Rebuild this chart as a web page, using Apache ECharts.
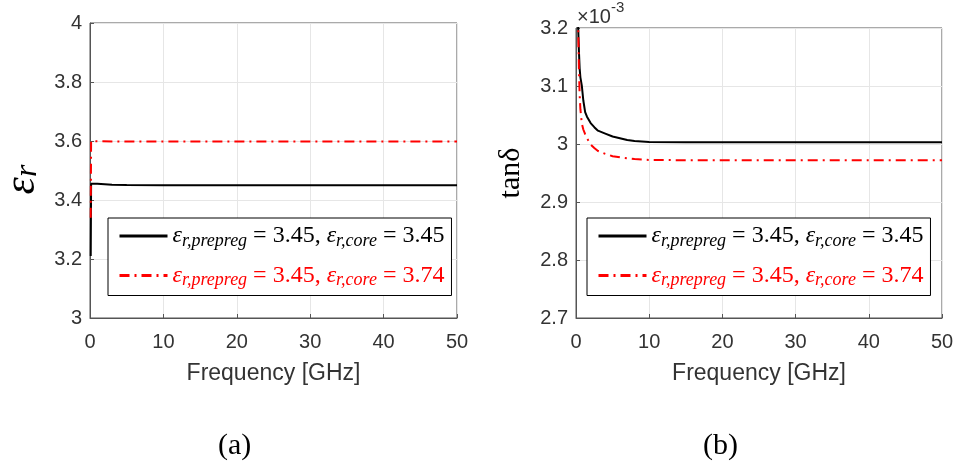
<!DOCTYPE html>
<html lang="en">
<head>
    <meta charset="UTF-8">
    <script src="https://cdn.jsdelivr.net/npm/echarts@6/dist/echarts.min.js"></script>
    <style>
        html, body { margin: 0; padding: 0; background: #fff; }
    </style>
</head>
<body>
<div style="width: 956px;height: 469px" id="chart"></div>

<script>
    // (a) relative permittivity vs frequency
    var freqA = [0.1, 0.15, 1, 3, 5, 10, 20, 30, 40, 50]
    var erCase1 = [3.21, 3.455, 3.455, 3.452, 3.451, 3.45, 3.45, 3.45, 3.45, 3.45]
    var freqA2 = [0.1, 0.15, 1, 5, 10, 20, 30, 40, 50]
    var erCase2 = [3.34, 3.6, 3.599, 3.598, 3.598, 3.598, 3.598, 3.598, 3.598]

    // (b) loss tangent (x10^-3) vs frequency
    var freqB = [0.25, 0.3, 0.4, 0.5, 0.6, 0.8, 1, 1.25, 1.5, 2, 2.5, 3, 4, 5, 6, 7, 8, 10, 15, 20, 30, 40, 50]
    var tanCase1 = [3.26, 3.2, 3.16, 3.13, 3.115, 3.1, 3.075, 3.055, 3.047, 3.036, 3.029, 3.023, 3.018, 3.013, 3.01, 3.007, 3.005, 3.0035, 3.003, 3.003, 3.003, 3.003, 3.003]
    var tanCase2 = [3.26, 3.2, 3.13, 3.085, 3.06, 3.035, 3.025, 3.017, 3.01, 2.999, 2.993, 2.988, 2.983, 2.979, 2.977, 2.9755, 2.974, 2.9725, 2.972, 2.972, 2.972, 2.972, 2.972]

    var erTicks = { min: 3, max: 4, interval: 0.2 }
    var tanTicks = { min: 2.7, max: 3.2, interval: 0.1 }
    var freqTicks = { min: 0, max: 50, interval: 10 }

    var legendText = {
        a1: ['3.45', '3.45'],
        a2: ['3.45', '3.74'],
        b1: ['3.45', '3.45'],
        b2: ['3.45', '3.74']
    }

    function zip(xs, ys) {
        return xs.map(function (x, i) { return [x, ys[i]] })
    }

    var serifFont = 'Liberation Serif'
    var sansFont = 'Liberation Sans'

    var legendRich = {
        e: { fontFamily: serifFont, fontStyle: 'italic', fontSize: 24, lineHeight: 28 },
        s: { fontFamily: serifFont, fontStyle: 'italic', fontSize: 18, lineHeight: 15, verticalAlign: 'bottom' },
        n: { fontFamily: serifFont, fontSize: 24, lineHeight: 28 }
    }

    function legendFmt(name) {
        var v = legendText[name]
        return '{e|ε}{s|r,prepreg}{n| = ' + v[0] + ', }{e|ε}{s|r,core}{n| = ' + v[1] + '}'
    }

    function makeLegend(left, names) {
        return {
            orient: 'vertical',
            left: left,
            top: 218,
            padding: [6, 7, 6, 10],
            itemGap: 13.5,
            itemWidth: 48,
            itemHeight: 14,
            backgroundColor: '#fff',
            borderColor: '#000',
            borderWidth: 1,
            selectedMode: false,
            lineStyle: { width: 3 },
            itemStyle: { opacity: 0 },
            data: [
                { name: names[0], textStyle: { color: '#000' } },
                { name: names[1], textStyle: { color: '#ff0000' } }
            ],
            formatter: legendFmt,
            textStyle: { rich: legendRich }
        }
    }

    function xAxisOpt(gridIndex) {
        return {
            type: 'value',
            gridIndex: gridIndex,
            min: freqTicks.min,
            max: freqTicks.max,
            interval: freqTicks.interval,
            name: 'Frequency [GHz]',
            nameLocation: 'middle',
            nameGap: 44,
            nameTextStyle: { fontFamily: sansFont, fontSize: 23, color: '#333' },
            axisLine: { lineStyle: { color: '#555' } },
            axisTick: { inside: true, length: 4, lineStyle: { color: '#555' } },
            axisLabel: { fontFamily: sansFont, fontSize: 20, color: '#333', margin: 14 },
            splitLine: { show: true, lineStyle: { color: '#e6e6e6' } }
        }
    }

    var chart = echarts.init(document.getElementById('chart'))
    var option = {
        animation: false,
        backgroundColor: '#fff',
        grid: [
            { left: 90, top: 23, width: 367, height: 295, show: true, borderColor: '#555', borderWidth: 1, outerBoundsMode: 'none' },
            { left: 576, top: 28, width: 366, height: 290, show: true, borderColor: '#555', borderWidth: 1, outerBoundsMode: 'none' }
        ],
        xAxis: [xAxisOpt(0), xAxisOpt(1)],
        yAxis: [
            {
                type: 'value',
                gridIndex: 0,
                min: erTicks.min,
                max: erTicks.max,
                interval: erTicks.interval,
                name: '{e|ε}{s|r}',
                nameLocation: 'middle',
                nameGap: 46,
                nameTextStyle: {
                    padding: [0, 18, 0, 0],
                    rich: {
                        e: { fontFamily: serifFont, fontStyle: 'italic', fontSize: 44, color: '#000' },
                        s: { fontFamily: serifFont, fontStyle: 'italic', fontSize: 32, color: '#000', verticalAlign: 'bottom' }
                    }
                },
                axisLine: { show: true, lineStyle: { color: '#555' } },
                axisTick: { show: true, inside: true, length: 4, lineStyle: { color: '#555' } },
                axisLabel: { fontFamily: sansFont, fontSize: 20, color: '#333', margin: 8 },
                splitLine: { show: true, lineStyle: { color: '#e6e6e6' } }
            },
            {
                type: 'value',
                gridIndex: 1,
                min: tanTicks.min,
                max: tanTicks.max,
                interval: tanTicks.interval,
                name: 'tanδ',
                nameLocation: 'middle',
                nameGap: 50,
                nameTextStyle: { fontFamily: serifFont, fontSize: 30, color: '#000' },
                axisLine: { show: true, lineStyle: { color: '#555' } },
                axisTick: { show: true, inside: true, length: 4, lineStyle: { color: '#555' } },
                axisLabel: { fontFamily: sansFont, fontSize: 20, color: '#333', margin: 8 },
                splitLine: { show: true, lineStyle: { color: '#e6e6e6' } }
            }
        ],
        legend: [
            makeLegend(108, ['a1', 'a2']),
            makeLegend(587, ['b1', 'b2'])
        ],
        series: [
            {
                name: 'a1', type: 'line', xAxisIndex: 0, yAxisIndex: 0, symbol: 'none',
                color: '#000', lineStyle: { width: 2, color: '#000' },
                data: zip(freqA, erCase1)
            },
            {
                name: 'a2', type: 'line', xAxisIndex: 0, yAxisIndex: 0, symbol: 'none',
                color: '#ff0000', lineStyle: { width: 2, color: '#ff0000', type: [10, 5, 2, 5] },
                data: zip(freqA2, erCase2)
            },
            {
                name: 'b1', type: 'line', xAxisIndex: 1, yAxisIndex: 1, symbol: 'none',
                color: '#000', lineStyle: { width: 2, color: '#000' },
                data: zip(freqB, tanCase1)
            },
            {
                name: 'b2', type: 'line', xAxisIndex: 1, yAxisIndex: 1, symbol: 'none',
                color: '#ff0000', lineStyle: { width: 2, color: '#ff0000', type: [10, 5, 2, 5] },
                data: zip(freqB, tanCase2)
            }
        ],
        graphic: [
            {
                type: 'text', left: 577, top: 0,
                style: {
                    text: '{m|×10}{p|-3}',
                    rich: {
                        m: { fontFamily: sansFont, fontSize: 20, fill: '#333', lineHeight: 27, verticalAlign: 'bottom' },
                        p: { fontFamily: sansFont, fontSize: 15, fill: '#333', lineHeight: 27, verticalAlign: 'top' }
                    }
                }
            },
            {
                type: 'text', left: 218, top: 431,
                style: { text: '(a)', fontFamily: serifFont, fontSize: 30, fill: '#000' }
            },
            {
                type: 'text', left: 703, top: 431,
                style: { text: '(b)', fontFamily: serifFont, fontSize: 30, fill: '#000' }
            }
        ]
    }
    chart.setOption(option)
</script>
</body>
</html>
